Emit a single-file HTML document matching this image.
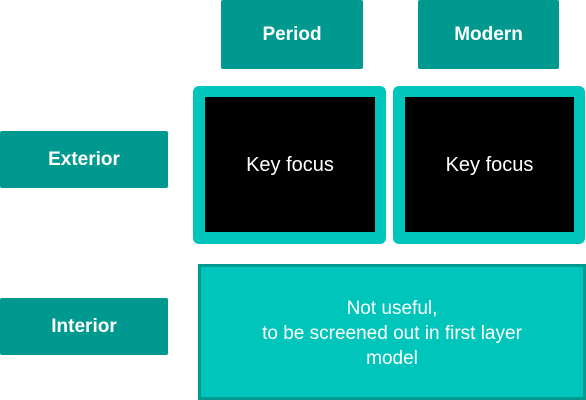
<!DOCTYPE html>
<html><head><meta charset="utf-8"><style>
body{margin:0;width:586px;height:400px;background:#fff;position:relative;overflow:hidden;font-family:"Liberation Sans",sans-serif}
.h{position:absolute;background:#009990;color:#fff;font-weight:bold;font-size:19px;display:flex;align-items:center;justify-content:center;border-radius:2px}
.o{position:absolute;background:#00c5bb;border-radius:6px}
.i{position:absolute;background:#000;color:#fff;font-size:20px;display:flex;align-items:center;justify-content:center;left:12px;top:11px;right:11px;bottom:12px;padding-top:2px;box-sizing:border-box}
.b{position:absolute;left:198px;top:264px;width:388px;height:136px;box-sizing:border-box;background:#00c5bb;border:3px solid #009a90;color:#fff;font-size:19px;text-align:center;line-height:25px;padding-top:29px}
</style></head><body>
<div class="h" style="left:221px;top:0;width:142px;height:69px">Period</div>
<div class="h" style="left:418px;top:0;width:141px;height:69px">Modern</div>
<div class="h" style="left:0;top:131px;width:168px;height:57px">Exterior</div>
<div class="h" style="left:0;top:298px;width:168px;height:57px">Interior</div>
<div class="o" style="left:193px;top:86px;width:193px;height:158px"><div class="i">Key focus</div></div>
<div class="o" style="left:393px;top:86px;width:192px;height:158px"><div class="i">Key focus</div></div>
<div class="b">Not useful,<br>to be screened out in first layer<br>model</div>
</body></html>
